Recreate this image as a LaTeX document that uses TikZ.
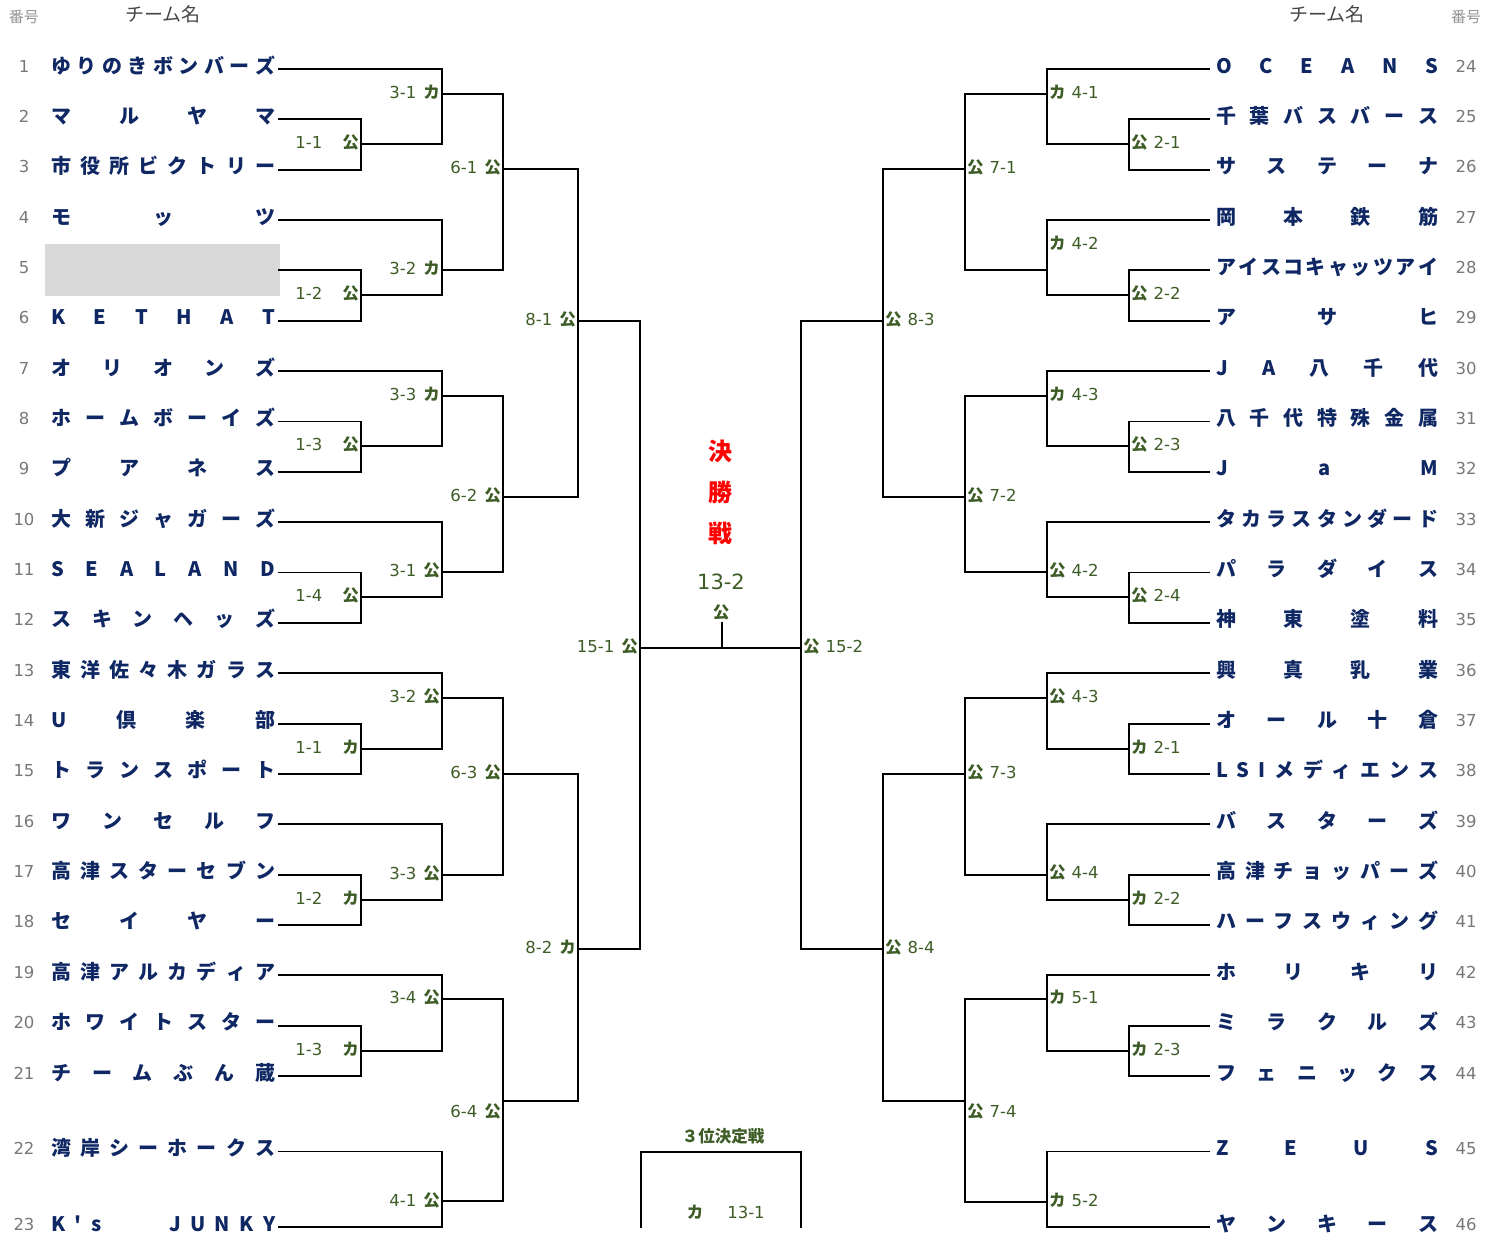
\documentclass[tikz,border=0pt]{standalone}
\usepackage{fontspec}
\setmainfont{Noto Sans CJK JP}
\newfontfamily\numfont{DejaVu Sans}
\usetikzlibrary{positioning}

\definecolor{teamblue}{RGB}{15,40,100}
\definecolor{scoregreen}{RGB}{62,92,38}
\definecolor{seedgray}{RGB}{120,120,120}
\definecolor{headgray}{RGB}{70,70,70}
\definecolor{byegray}{RGB}{217,217,217}

\ExplSyntaxOn
\seq_new:N \l__spread_seq
\tl_new:N \l__spread_tl
\NewDocumentCommand\spreadname{mm}
  {
    \tl_set:No \l__spread_tl {#2}
    \seq_clear:N \l__spread_seq
    \tl_map_inline:Nn \l__spread_tl { \seq_put_right:Nn \l__spread_seq {##1} }
    \makebox[#1][s]{ \seq_use:Nn \l__spread_seq { \hfill } }
  }
\ExplSyntaxOff

\newcommand\kana[1]{{\normalfont\fontsize{16.5}{20}\bfseries\selectfont #1}}

\tikzset{
        bracket/.style={draw=black, line width=1.9pt},
        team/.style={inner sep=0pt, text=teamblue, font=\fontsize{20}{24}\selectfont\bfseries},
        seed/.style={inner sep=0pt, text=seedgray, font=\numfont\fontsize{16.5}{20}\selectfont},
        head/.style={inner sep=0pt, text=headgray, font=\fontsize{19}{22}\selectfont},
        seedhead/.style={inner sep=0pt, text=seedgray!80!white, font=\fontsize{15}{18}\selectfont},
        score/.style={inner sep=0pt, text=scoregreen, font=\numfont\fontsize{16.5}{20}\selectfont},
        bigscore/.style={score, font=\numfont\fontsize{21}{24}\selectfont},
        final/.style={inner sep=0pt, text=red, align=center, font=\fontsize{24}{41}\selectfont\bfseries}
          }

\begin{document}
\begin{tikzpicture}[x=1pt, y=-1pt]
        \useasboundingbox (0,0) rectangle (1497,1237);
        \fill[byegray] (45,244) rectangle (280,296);

        \node[seedhead] (hsl) at (24,17) {番号};
        \node[head] (hnl) at (163,14) {チーム名};
        \node[head] (hnr) at (1327,14) {チーム名};
        \node[seedhead] (hsr) at (1466,17) {番号};

        \foreach \name [count=\i] in {ゆりのきボンバーズ, マルヤマ, 市役所ビクトリー, モッツ, {}, KETHAT,
            オリオンズ, ホームボーイズ, プアネス, 大新ジャガーズ, SEALAND, スキンヘッズ,
            東洋佐々木ガラス, U倶楽部, トランスポート, ワンセルフ, 高津スターセブン, セイヤー,
            高津アルカディア, ホワイトスター, チームぶん蔵, 湾岸シーホークス, K\textquotesingle s　　JUNKY} {
          \pgfmathsetmacro\ty{\i<22 ? 69+(\i-1)*50.35 : 1076+(\i-21)*75.5}
          \coordinate (t\i) at (278,\ty);
          \node[seed] (s\i) at (24,\ty-3) {\i};
          \node[team, anchor=base west] (n\i) at (51,\ty+4) {\spreadname{224pt}{\name}};
        }
        \foreach \name [count=\i from 24] in {OCEANS, 千葉バスバース, サステーナ, 岡本鉄筋, アイスコキャッツアイ, アサヒ,
            JA八千代, 八千代特殊金属, JaM, タカラスタンダード, パラダイス, 神東塗料,
            興真乳業, オール十倉, LSIメディエンス, バスターズ, 高津チョッパーズ, ハーフスウィング,
            ホリキリ, ミラクルズ, フェニックス, ZEUS, ヤンキース} {
          \pgfmathsetmacro\ty{\i<45 ? 69+(\i-24)*50.35 : 1076+(\i-44)*75.5}
          \coordinate (t\i) at (1210,\ty);
          \node[seed] (s\i) at (1466,\ty-3) {\i};
          \node[team, anchor=base west] (n\i) at (1216,\ty+4) {\spreadname{222pt}{\name}};
        }

        \foreach \m/\x/\y in {la1/361/144, la2/361/295, la3/361/446, la4/361/597, la5/361/749, la6/361/900, la7/361/1051,
            lb1/442/94, lb2/442/270, lb3/442/396, lb4/442/572, lb5/442/698, lb6/442/875, lb7/442/999, lb8/442/1201,
            lc1/503/169, lc2/503/497, lc3/503/774, lc4/503/1101, ld1/578/321, ld2/578/949, le/640/648,
            ra1/1129/144, ra2/1129/295, ra3/1129/446, ra4/1129/597, ra5/1129/749, ra6/1129/900, ra7/1129/1051,
            rb1/1047/94, rb2/1047/270, rb3/1047/396, rb4/1047/572, rb5/1047/698, rb6/1047/875, rb7/1047/999, rb8/1047/1202,
            rc1/965/169, rc2/965/497, rc3/965/774, rc4/965/1101, rd1/883/321, rd2/883/949, re/801/648}
          \coordinate (\m) at (\x,\y);

        \foreach \m/\a/\b in {la1/t2/t3, la2/t5/t6, la3/t8/t9, la4/t11/t12, la5/t14/t15, la6/t17/t18, la7/t20/t21,
            lb1/t1/la1, lb2/t4/la2, lb3/t7/la3, lb4/t10/la4, lb5/t13/la5, lb6/t16/la6, lb7/t19/la7, lb8/t22/t23,
            lc1/lb1/lb2, lc2/lb3/lb4, lc3/lb5/lb6, lc4/lb7/lb8, ld1/lc1/lc2, ld2/lc3/lc4, le/ld1/ld2,
            ra1/t25/t26, ra2/t28/t29, ra3/t31/t32, ra4/t34/t35, ra5/t37/t38, ra6/t40/t41, ra7/t43/t44,
            rb1/t24/ra1, rb2/t27/ra2, rb3/t30/ra3, rb4/t33/ra4, rb5/t36/ra5, rb6/t39/ra6, rb7/t42/ra7, rb8/t45/t46,
            rc1/rb1/rb2, rc2/rb3/rb4, rc3/rb5/rb6, rc4/rb7/rb8, rd1/rc1/rc2, rd2/rc3/rc4, re/rd1/rd2}
          \draw[bracket] (\a) -| (\m) |- (\b);

        \foreach \m/\s/\k/\g/\dy in {la1/1-1/公/20/2, la2/1-2/公/20/2, la3/1-3/公/20/2, la4/1-4/公/20/2,
            la5/1-1/カ/20/2, la6/1-2/カ/20/2, la7/1-3/カ/20/2,
            lb1/3-1/カ/7/2, lb2/3-2/カ/7/2, lb3/3-3/カ/7/2, lb4/3-1/公/7/2, lb5/3-2/公/7/2, lb6/3-3/公/7/2,
            lb7/3-4/公/7/2, lb8/4-1/公/7/1, lc1/6-1/公/7/2, lc2/6-2/公/7/2, lc3/6-3/公/7/2, lc4/6-4/公/7/-10,
            ld1/8-1/公/7/2, ld2/8-2/カ/7/2, le/15-1/公/7/2}
          \node[score, anchor=east] (\m-s) at ([xshift=-2pt, yshift=\dy pt]\m) {\s\hspace{\g pt}\kana{\k}};

        \foreach \m/\s/\k/\dy in {ra1/2-1/公/2, ra2/2-2/公/2, ra3/2-3/公/2, ra4/2-4/公/2,
            ra5/2-1/カ/2, ra6/2-2/カ/2, ra7/2-3/カ/2,
            rb1/4-1/カ/2, rb2/4-2/カ/27, rb3/4-3/カ/2, rb4/4-2/公/2, rb5/4-3/公/2, rb6/4-4/公/3,
            rb7/5-1/カ/2, rb8/5-2/カ/2, rc1/7-1/公/2, rc2/7-2/公/2, rc3/7-3/公/2, rc4/7-4/公/-10,
            rd1/8-3/公/2, rd2/8-4/公/2, re/15-2/公/2}
          \node[score, anchor=west] (\m-s) at ([xshift=2pt, yshift=\dy pt]\m) {\kana{\k}\hspace{6pt}\s};

        \coordinate (fin) at (722,622);
        \draw[bracket] (le) -- (re);
        \draw[bracket] (fin) -- (fin |- le);
        \node[final] (title) at (720,492) {決\\勝\\戦};
        \node[bigscore] (fscore) at (721,582) {13-2};
        \node[score] (fwin) at (721,612) {\kana{公}};

        \coordinate (thl) at (641,1228);
        \coordinate (tht) at (721,1152);
        \coordinate (thr) at (801,1228);
        \draw[bracket] (thl) |- (tht) -| (thr);
        \node[score] (third) at (723,1136) {\kana{３位決定戦}};
        \node[score] (thk) at (695,1212) {\kana{カ}};
        \node[score] (ths) at (746,1212) {13-1};
      \end{tikzpicture}
\end{document}
